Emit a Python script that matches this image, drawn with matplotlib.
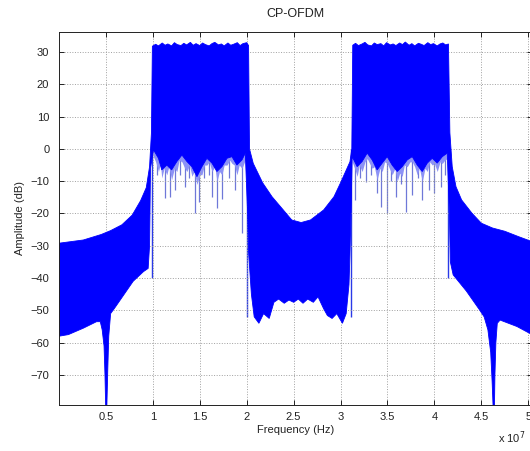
import matplotlib
matplotlib.use("Agg")
import matplotlib.pyplot as plt
import numpy as np

plt.rcParams['font.family'] = ['Liberation Sans', 'DejaVu Sans']

# frequency in units of 1e7 Hz, amplitude in dB (envelopes)
# upper envelope, left to right
upper_x = [0, 0.26, 0.45, 0.55, 0.67, 0.78, 0.87, 0.93, 0.965, 0.985, 0.995,
           1.03, 1.06, 1.1, 1.13, 1.16, 1.2, 1.23, 1.26, 1.3, 1.33, 1.36, 1.4, 1.43, 1.46, 1.5,
           1.53, 1.56, 1.6, 1.63, 1.66, 1.7, 1.73, 1.76, 1.8, 1.83, 1.86, 1.9, 1.93, 1.96, 2.0,
           2.02, 2.03, 2.07, 2.17, 2.27, 2.39, 2.48, 2.58, 2.68, 2.82, 2.93, 3.0, 3.1, 3.12, 3.13,
           3.16, 3.19, 3.23, 3.26, 3.29, 3.33, 3.36, 3.39, 3.43, 3.46, 3.49, 3.53, 3.56, 3.59,
           3.63, 3.66, 3.69, 3.73, 3.76, 3.79, 3.83, 3.86, 3.89, 3.93, 3.96, 3.99, 4.03, 4.06,
           4.09, 4.12, 4.15,
           4.165, 4.19, 4.23, 4.29, 4.4, 4.5, 4.62, 4.75, 4.9, 5.04]
upper_y = [-29.2, -28.2, -26.5, -25.3, -23.5, -20.5, -16, -12, -5.5, 5, 31.8,
           32.4, 31.9, 32.8, 32.1, 32.5, 31.9, 32.9, 32.3, 32.0, 32.7, 32.2, 33.0, 32.1, 32.6, 32.0,
           32.8, 32.3, 31.9, 32.6, 33.0, 32.2, 32.5, 31.9, 32.8, 32.1, 32.4, 32.9, 32.0, 32.6, 32.9,
           32.0, 0, -4.5, -10.5, -14.8, -18.9, -22.0, -22.8, -22.0, -18.9, -14.8, -10.5, -4.0, 0, 32.1,
           32.7, 32.0, 32.5, 33.0, 32.2, 31.9, 32.8, 32.3, 32.6, 31.9, 32.9, 32.2, 32.5, 32.0,
           32.8, 32.3, 33.1, 32.1, 32.6, 31.9, 32.7, 32.4, 32.0, 32.9, 32.3, 32.6, 31.9, 32.5,
           32.8, 32.2, 32.5,
           5, -5.5, -11.7, -15.8, -19.9, -23.0, -24.5, -25.5, -27.2, -28.7]

# lower envelope of the solid blue, left to right
lower_x = [0, 0.1, 0.26, 0.4, 0.44, 0.46, 0.48, 0.49, 0.497, 0.51, 0.52, 0.53, 0.55, 0.6,
           0.79, 0.9, 0.95, 0.965, 0.975,
           1.007, 1.06, 1.095, 1.149, 1.2, 1.256, 1.31, 1.363, 1.416, 1.47, 1.523,
           1.576, 1.63, 1.683, 1.736, 1.79, 1.843, 1.896, 1.95, 1.985,
           2.01, 2.02, 2.05, 2.08, 2.13, 2.18, 2.24, 2.29, 2.34, 2.4, 2.45, 2.5, 2.55,
           2.6, 2.65, 2.71, 2.76, 2.82, 2.86, 2.91, 2.96, 3.02, 3.06, 3.09, 3.1, 3.115,
           3.124, 3.177, 3.23, 3.284, 3.337, 3.39, 3.444, 3.497, 3.55, 3.604, 3.657,
           3.711, 3.764, 3.817, 3.871, 3.924, 3.977, 4.03, 4.084, 4.137,
           4.16, 4.17, 4.2, 4.34, 4.48, 4.53, 4.57, 4.6, 4.615, 4.625, 4.64, 4.645,
           4.655, 4.67, 4.7, 4.88, 5.04]
lower_y = [-58, -57.5, -55.5, -53.5, -53.5, -56, -61, -70, -79.5, -79.5, -68, -58, -51, -49,
           -41, -38, -37, -30, -6,
           -0.3, -2.9, -6.5, -5.0, -6.5, -3.9, -1.9, -3.9, -5.5, -8.6, -5.5,
           -2.9, -4.4, -7.0, -5.5, -2.9, -2.4, -5.0, -3.4, -1.3,
           -20, -32, -45, -52, -54, -51, -52.5, -47.5, -46.5, -47.8, -46.8, -47.5, -46.5,
           -47.8, -46.5, -47.5, -45.8, -49.5, -51.6, -52.5, -51, -54, -51, -42, -33, -15,
           -2.4, -5.5, -3.9, -1.3, -3.4, -6.5, -4.4, -2.4, -5.0, -7.0, -5.5,
           -3.4, -2.4, -5.0, -7.0, -4.4, -2.9, -4.4, -2.4, -1.3,
           -20, -35, -39, -44, -49.8, -52, -56, -63, -72, -79.5, -79.5, -70,
           -60, -54, -53, -55, -57.5]

# lighter fringe below the passbands
fringe1_x = [1.0, 1.03, 1.06, 1.08, 1.095, 1.12, 1.149, 1.17, 1.2, 1.23, 1.256, 1.28, 1.31,
             1.34, 1.363, 1.39, 1.416, 1.44, 1.47, 1.5, 1.523, 1.55, 1.576, 1.6, 1.63, 1.66,
             1.683, 1.71, 1.736, 1.76, 1.79, 1.82, 1.843, 1.87, 1.896, 1.92, 1.95, 1.99]
fringe1_y = [-2, -4, -7, -4.5, -9, -6, -8, -5.5, -9.5, -6, -7, -3.5, -4, -6, -7, -5, -8.5, -7,
             -11, -8, -8, -5, -5, -4, -7, -5.5, -10, -7, -8, -5, -5, -3.5, -4.5, -5, -8, -5,
             -6, -3]
fringe2_x = [3.124, 3.15, 3.177, 3.2, 3.23, 3.26, 3.284, 3.31, 3.337, 3.36, 3.39, 3.42,
             3.444, 3.47, 3.497, 3.52, 3.55, 3.58, 3.604, 3.63, 3.657, 3.68, 3.711, 3.74,
             3.764, 3.79, 3.817, 3.84, 3.871, 3.9, 3.924, 3.95, 3.977, 4.0, 4.03, 4.06, 4.084,
             4.11, 4.137]
fringe2_y = [-4, -6, -8.5, -5, -7, -4, -3, -4.5, -6, -5.5, -9.5, -6, -7, -4, -4.5, -6, -8, -6,
             -10, -7.5, -8.5, -5, -5.5, -4, -4, -5.5, -8, -6, -10, -6, -7, -4, -5, -4.5, -7,
             -4, -4.5, -3.5, -3]

# thin dips inside the passbands (x, lowest dB)
dip_x = [1.04, 1.131, 1.185, 1.238, 1.29, 1.345, 1.39, 1.444, 1.487, 1.55, 1.6, 1.63,
         1.683, 1.736, 1.81, 1.878, 1.95,
         3.159, 3.21, 3.266, 3.32, 3.391, 3.426, 3.497, 3.54, 3.586, 3.64, 3.693, 3.764,
         3.82, 3.871, 3.941, 3.995, 4.066, 4.11]
dip_y = [-8, -15.3, -14.8, -12.7, -8, -11.7, -9, -19.9, -16.3, -9, -8, -14.8,
         -18.4, -15.6, -9, -12.7, -26,
         -15.8, -9, -10.4, -8, -13.5, -17.9, -19.9, -10, -14.8, -11, -19.4, -14.3,
         -9, -15.8, -12.7, -13.8, -11.7, -8]

# thin spikes at the band edges
edge_x = [0.995, 2.005, 3.115, 4.15]
edge_y = [-40, -52, -52, -40]

fig = plt.figure(figsize=(5.3, 4.51), dpi=100)
ax = fig.add_axes([59 / 530, 1 - 405 / 451, 473 / 530, 373 / 451])

blue = '#0000ff'
ax.vlines(dip_x, dip_y, 0, color='#6f78d8', lw=0.9, zorder=1)
ax.vlines(edge_x, edge_y, 0, color='#2a3ae8', lw=1.0, zorder=1)
ax.fill_between(fringe1_x, fringe1_y, 0, color='#8c92f6', lw=0, zorder=1.5)
ax.fill_between(fringe2_x, fringe2_y, 0, color='#8c92f6', lw=0, zorder=1.5)

poly_x = upper_x + lower_x[::-1]
poly_y = upper_y + lower_y[::-1]
ax.fill(poly_x, poly_y, color=blue, lw=0.6, zorder=2)

ax.set_xlim(0, 5.04)
ax.set_ylim(-79.3, 36.2)
ax.set_xticks([0.5, 1, 1.5, 2, 2.5, 3, 3.5, 4, 4.5, 5])
ax.set_xticklabels(['0.5', '1', '1.5', '2', '2.5', '3', '3.5', '4', '4.5', '5'])
ax.set_yticks(np.arange(-70, 31, 10))
ax.grid(True, linestyle=':', color='#a0a0a0', lw=0.7)
ax.tick_params(direction='in', top=True, right=True, length=3.5, width=0.7,
               labelsize=8, colors='#222222')
ax.tick_params(axis='y', pad=7)
ax.tick_params(axis='x', pad=5)
for s in ax.spines.values():
    s.set_linewidth(0.7)
    s.set_color('#222222')

ax.set_title('CP-OFDM', fontsize=9, color='#222222', pad=11)
ax.set_xlabel('Frequency (Hz)', fontsize=8, color='#222222', labelpad=2)
ax.set_ylabel('Amplitude (dB)', fontsize=8, color='#222222', labelpad=4)
fig.text(498 / 530, 1 - 438 / 451, 'x 10$^{7}$', fontsize=8, color='#222222',
         ha='left', va='center')

fig.savefig('out.png', dpi=100)
